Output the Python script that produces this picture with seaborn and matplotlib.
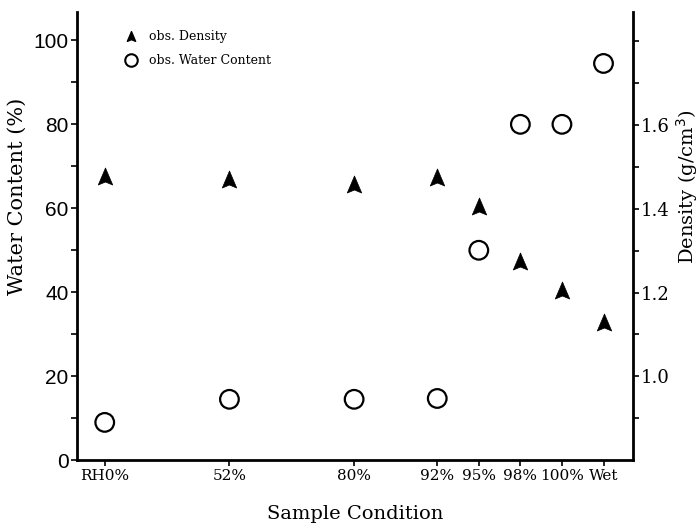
import seaborn as sns
import matplotlib.pyplot as plt
import pandas as pd
from matplotlib.path import Path
from matplotlib.lines import Line2D
from matplotlib.ticker import FixedLocator

conditions = ["RH0%", "52%", "80%", "92%", "95%", "98%", "100%", "Wet"]
positions = [0, 3, 6, 8, 9, 10, 11, 12]
water_content = [9, 14.5, 14.5, 14.7, 50, 80, 80, 94.5]
density = [1.478, 1.471, 1.460, 1.476, 1.407, 1.275, 1.205, 1.129]

df = pd.DataFrame({"pos": positions, "Condition": conditions,
                   "Water": water_content, "Density": density})

sns.set_style("ticks", {"text.color": "black", "axes.labelcolor": "black",
                        "xtick.color": "black", "ytick.color": "black"})
plt.rcParams["font.family"] = ["DejaVu Serif"]

# slightly concave "arrowhead" triangle like the original
arrow = Path([(0, 1), (-0.85, -1), (0, -0.65), (0.85, -1), (0, 1)],
             [Path.MOVETO, Path.LINETO, Path.LINETO, Path.LINETO, Path.CLOSEPOLY])

fig = plt.figure(figsize=(6.99, 5.32), dpi=100)
ax = fig.add_axes([0.110, 0.135, 0.795, 0.842])
ax2 = ax.twinx()

sns.scatterplot(data=df, x="pos", y="Water", ax=ax, marker="o", s=180,
                facecolor="none", edgecolor="black", linewidth=1.6, zorder=3)
sns.scatterplot(data=df, x="pos", y="Density", ax=ax2, marker=arrow, s=150,
                color="black", edgecolor="black", linewidth=0.5, zorder=3)

ax.set_xlim(-0.67, 12.7)
ax.set_ylim(0, 106.7)
ax2.set_ylim(0.8, 1.869)

ax.set_xticks(positions)
ax.set_xticklabels(conditions, fontsize=11)
ax.yaxis.set_major_locator(FixedLocator([0, 20, 40, 60, 80, 100]))
ax.yaxis.set_minor_locator(FixedLocator([10, 30, 50, 70, 90]))
for lab in ax.get_yticklabels():
    lab.set_family(["Liberation Sans", "DejaVu Sans"])
    lab.set_fontsize(15)

ax2.yaxis.set_major_locator(FixedLocator([1.0, 1.2, 1.4, 1.6]))
ax2.yaxis.set_minor_locator(FixedLocator([0.9, 1.1, 1.3, 1.5, 1.7, 1.8]))
ax2.set_yticklabels(["1.0", "1.2", "1.4", "1.6"], fontsize=13)

ax.set_xlabel("Sample Condition", fontsize=14, labelpad=16)
ax.set_ylabel("Water Content (%)", fontsize=15, labelpad=4)
ax2.set_ylabel("Density (g/cm$^3$)", fontsize=14)
ax.yaxis.set_label_coords(-0.09, 0.59)
ax2.yaxis.set_label_coords(1.075, 0.61)

for a in (ax, ax2):
    a.spines["top"].set_visible(False)
    a.tick_params(which="both", direction="out", color="black",
                  labelcolor="black", width=1.2)
    a.tick_params(which="major", length=4, pad=2)
    a.tick_params(which="minor", length=4)
    for s in a.spines.values():
        s.set_linewidth(2)
        s.set_color("black")
ax.spines["right"].set_visible(False)
ax2.spines["left"].set_visible(False)
ax2.spines["bottom"].set_visible(False)

handles = [
    Line2D([], [], marker=arrow, linestyle="none", color="black", markersize=7),
    Line2D([], [], marker="o", linestyle="none", markerfacecolor="none",
           markeredgecolor="black", markeredgewidth=1.5, markersize=9),
]
ax.legend(handles, ["obs. Density", "obs. Water Content"], loc="upper left",
          bbox_to_anchor=(0.055, 0.985), frameon=False, fontsize=9,
          handletextpad=0.4, labelspacing=0.9)

fig.savefig("out.png", dpi=100)
